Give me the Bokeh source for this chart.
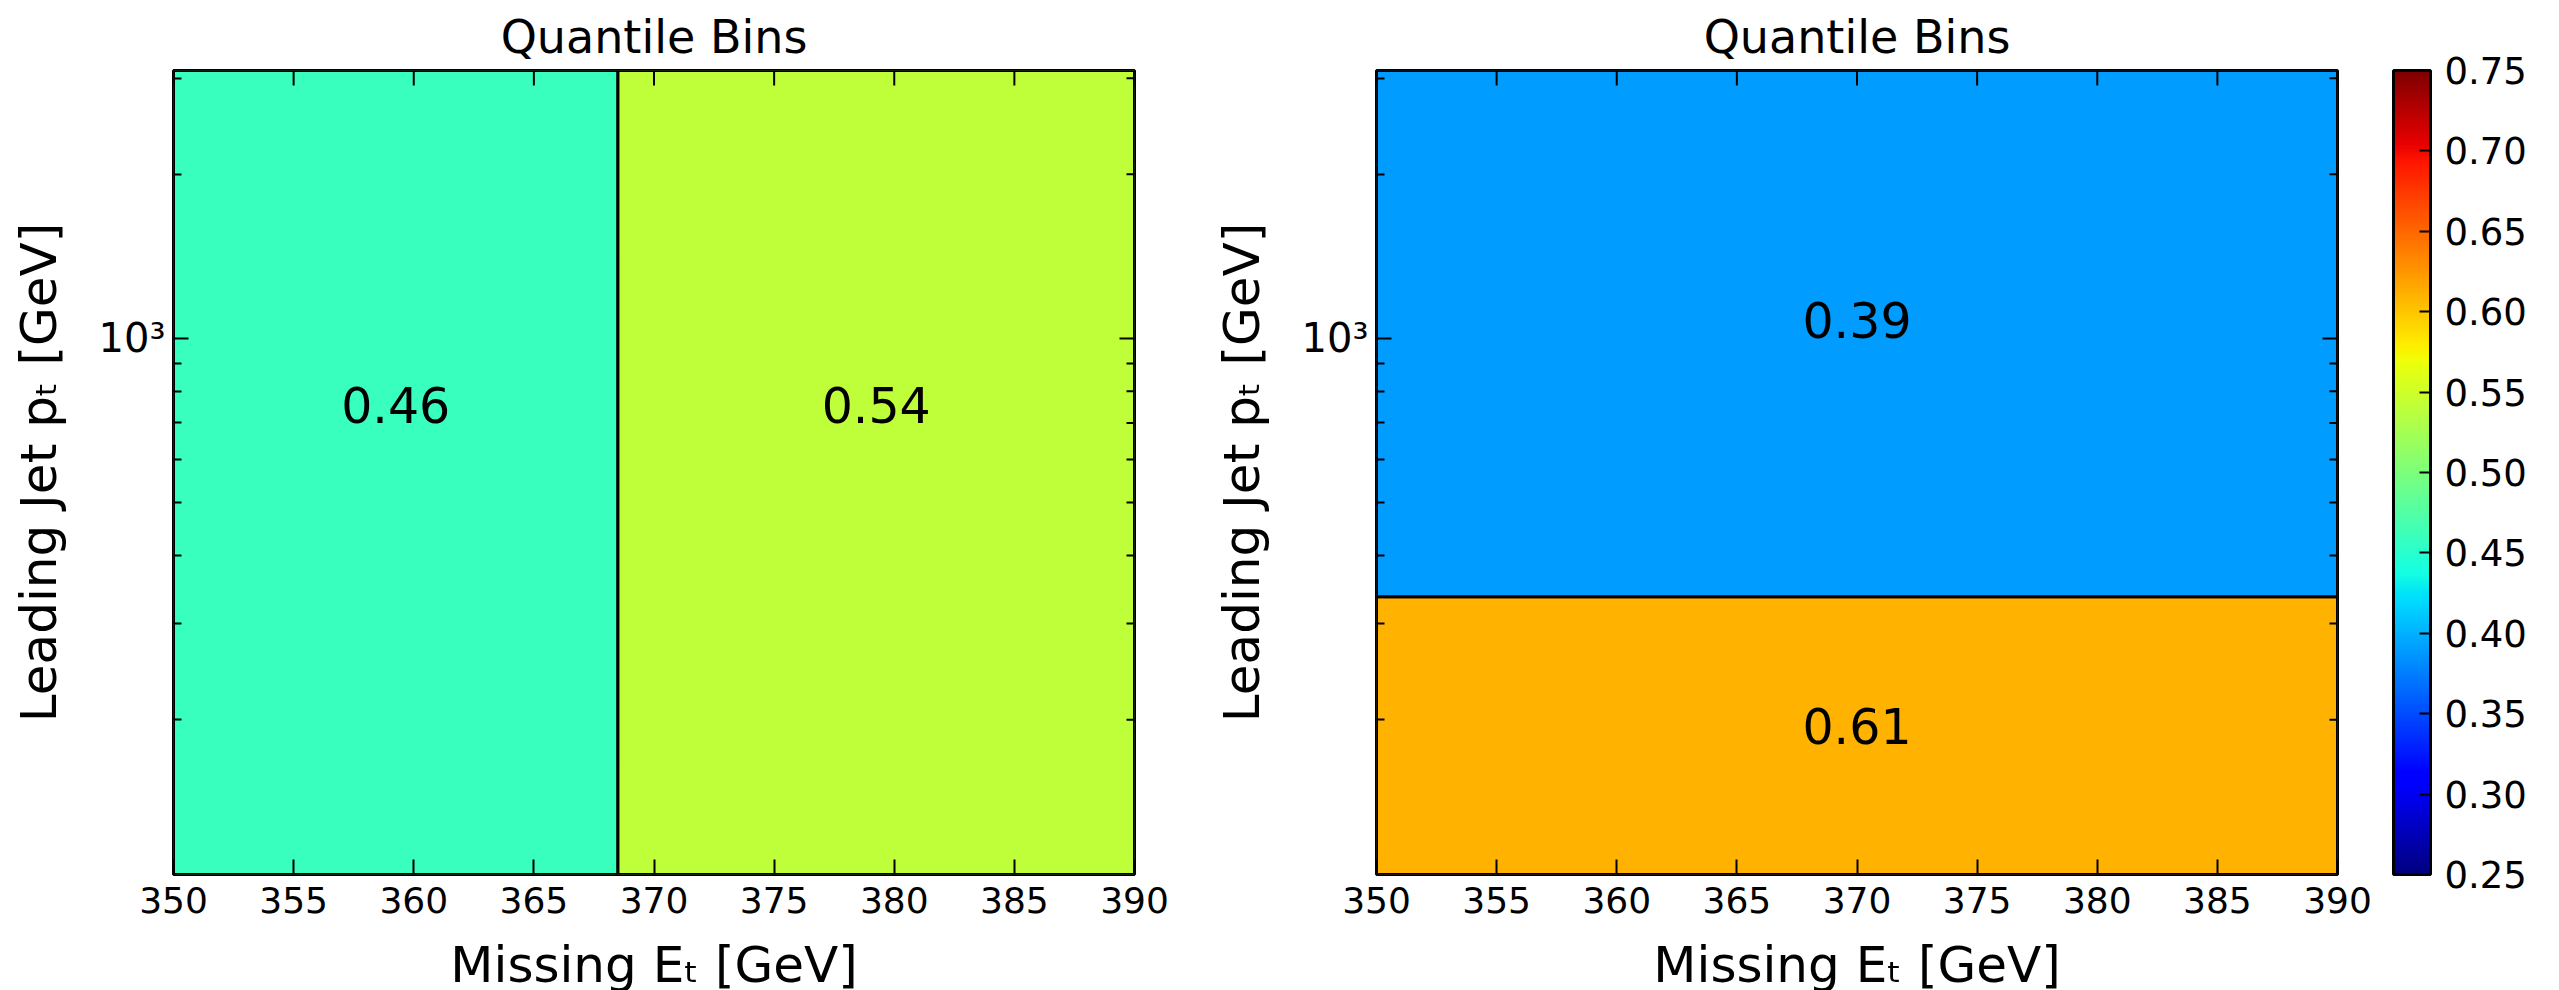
import numpy as np
from bokeh.plotting import figure
from bokeh.models import (ColumnDataSource, LinearColorMapper, ColorBar, FixedTicker,
                          Range1d, PrintfTickFormatter)
from bokeh.layouts import row
from bokeh.core.properties import value
from bokeh.embed import file_html
from bokeh.resources import INLINE
from bokeh.transform import transform

# ---------------- data ----------------
title_text = "Quantile Bins"
x_axis_label = "Missing Eₜ [GeV]"
y_axis_label = "Leading Jet pₜ [GeV]"
x_limits = [350, 390]
y_limits = [104, 3100]

left_x_edges = [350, 368.5, 390]
left_values = [0.46, 0.54]
left_label_y = [755, 755]

right_y_edges = [104, 336, 3100]
right_values = [0.61, 0.39]
right_label_y = [195, 1079]

x_ticks = [350, 355, 360, 365, 370, 375, 380, 385, 390]
y_major_ticks = [1000]
y_major_labels = {1000: "10³"}
y_minor_ticks = [200, 300, 400, 500, 600, 700, 800, 900, 2000, 3000]
cbar_ticks = [0.25, 0.30, 0.35, 0.40, 0.45, 0.50, 0.55, 0.60, 0.65, 0.70, 0.75]
cbar_low, cbar_high = 0.25, 0.75

FONT = "DejaVu Sans"

# ---------------- jet colormap ----------------
def jet_palette(n=256):
    t = np.linspace(0, 1, n)
    r = np.interp(t, [0, 0.35, 0.66, 0.89, 1], [0, 0, 1, 1, 0.5])
    g = np.interp(t, [0, 0.125, 0.375, 0.64, 0.91, 1], [0, 0, 1, 1, 0, 0])
    b = np.interp(t, [0, 0.11, 0.34, 0.65, 1], [0.5, 1, 1, 0, 0])
    return ["#%02x%02x%02x" % (int(round(a * 255)), int(round(c * 255)), int(round(d * 255)))
            for a, c, d in zip(r, g, b)]

mapper = LinearColorMapper(palette=jet_palette(), low=cbar_low, high=cbar_high)

FRAME_W, FRAME_H = 961, 804
MAJOR_LEN, MINOR_LEN = 15, 8
DEC_PX = FRAME_H / (np.log10(y_limits[1]) - np.log10(y_limits[0]))
GEV_PER_PX = (x_limits[1] - x_limits[0]) / FRAME_W


def make_fig(min_left, min_right):
    p = figure(x_range=Range1d(*x_limits), y_range=Range1d(*y_limits), y_axis_type="log",
               frame_width=FRAME_W, frame_height=FRAME_H, output_backend="svg",
               toolbar_location=None, min_border_left=min_left, min_border_right=min_right,
               min_border_top=68, min_border_bottom=118, title=title_text,
               x_axis_label=x_axis_label, y_axis_label=y_axis_label)
    p.grid.visible = False
    p.outline_line_color = "black"
    p.outline_line_width = 3
    p.outline_line_alpha = 1
    p.background_fill_color = "white"
    p.border_fill_color = "white"
    p.title.align = "center"
    p.title.text_font = FONT
    p.title.text_font_size = "46px"
    p.title.text_font_style = "normal"
    p.title.text_color = "black"
    p.title.standoff = 14

    xa = p.xaxis[0]
    xa.ticker = FixedTicker(ticks=x_ticks)
    ya = p.yaxis[0]
    ya.ticker = FixedTicker(ticks=y_major_ticks, minor_ticks=y_minor_ticks)
    ya.major_label_overrides = y_major_labels
    for ax in (xa, ya):
        ax.axis_line_color = None
        ax.major_tick_in = MAJOR_LEN
        ax.major_tick_out = 0
        ax.major_tick_line_width = 2
        ax.minor_tick_in = MINOR_LEN
        ax.minor_tick_out = 0
        ax.minor_tick_line_width = 2
        ax.major_label_text_font = FONT
        ax.major_label_text_color = "black"
        ax.axis_label_text_font = FONT
        ax.axis_label_text_font_size = "50px"
        ax.axis_label_text_font_style = "normal"
        ax.axis_label_text_color = "black"
    xa.major_label_text_font_size = "36px"
    ya.major_label_text_font_size = "40px"
    xa.major_label_standoff = 12
    ya.major_label_standoff = 8
    xa.axis_label_standoff = 20
    ya.axis_label_standoff = 28

    # mirrored ticks on the top and right edges (derived from the tick arrays)
    top_src = ColumnDataSource(dict(
        x=x_ticks, y0=[y_limits[1]] * len(x_ticks),
        y1=[y_limits[1] * 10 ** (-MAJOR_LEN / DEC_PX)] * len(x_ticks)))
    p.segment(x0="x", y0="y0", x1="x", y1="y1", source=top_src, line_color="black", line_width=2)
    ry = y_major_ticks + y_minor_ticks
    rlen = [MAJOR_LEN] * len(y_major_ticks) + [MINOR_LEN] * len(y_minor_ticks)
    right_src = ColumnDataSource(dict(
        y=ry, x0=[x_limits[1]] * len(ry),
        x1=[x_limits[1] - L * GEV_PER_PX for L in rlen]))
    p.segment(x0="x0", y0="y", x1="x1", y1="y", source=right_src, line_color="black", line_width=2)
    return p


# ---------------- left panel ----------------
p1 = make_fig(173, 69)
src1 = ColumnDataSource(dict(
    left=left_x_edges[:-1], right=left_x_edges[1:],
    bottom=[y_limits[0]] * len(left_values), top=[y_limits[1]] * len(left_values),
    value=left_values,
    tx=[(a + b) / 2 for a, b in zip(left_x_edges[:-1], left_x_edges[1:])],
    ty=left_label_y,
    label=["%.2f" % v for v in left_values],
))
p1.quad(left="left", right="right", bottom="bottom", top="top", source=src1,
        fill_color=transform("value", mapper), line_color="black", line_width=3, level="underlay")
p1.text(x="tx", y="ty", text="label", source=src1, text_align="center", text_baseline="middle",
        text_font=value(FONT), text_font_size="49px", text_color="black")

# ---------------- right panel ----------------
p2 = make_fig(173, 222)
src2 = ColumnDataSource(dict(
    left=[x_limits[0]] * len(right_values), right=[x_limits[1]] * len(right_values),
    bottom=right_y_edges[:-1], top=right_y_edges[1:],
    value=right_values,
    tx=[(x_limits[0] + x_limits[1]) / 2] * len(right_values),
    ty=right_label_y,
    label=["%.2f" % v for v in right_values],
))
p2.quad(left="left", right="right", bottom="bottom", top="top", source=src2,
        fill_color=transform("value", mapper), line_color="black", line_width=3, level="underlay")
p2.text(x="tx", y="ty", text="label", source=src2, text_align="center", text_baseline="middle",
        text_font=value(FONT), text_font_size="49px", text_color="black")

cb = ColorBar(color_mapper=mapper, ticker=FixedTicker(ticks=cbar_ticks),
              formatter=PrintfTickFormatter(format="%.2f"),
              width=37, height=FRAME_H, padding=0, margin=0, location=(56, 0),
              bar_line_color="black", bar_line_width=3,
              major_tick_line_color="black", major_tick_line_width=2,
              major_tick_in=11, major_tick_out=0, minor_tick_line_color=None,
              major_label_text_font=FONT, major_label_text_font_size="37px",
              major_label_text_color="black",
              label_standoff=14, background_fill_color=None, border_line_color=None)
p2.add_layout(cb, "right")

layout = row(p1, p2)
open("out.html", "w").write(file_html(layout, INLINE))
